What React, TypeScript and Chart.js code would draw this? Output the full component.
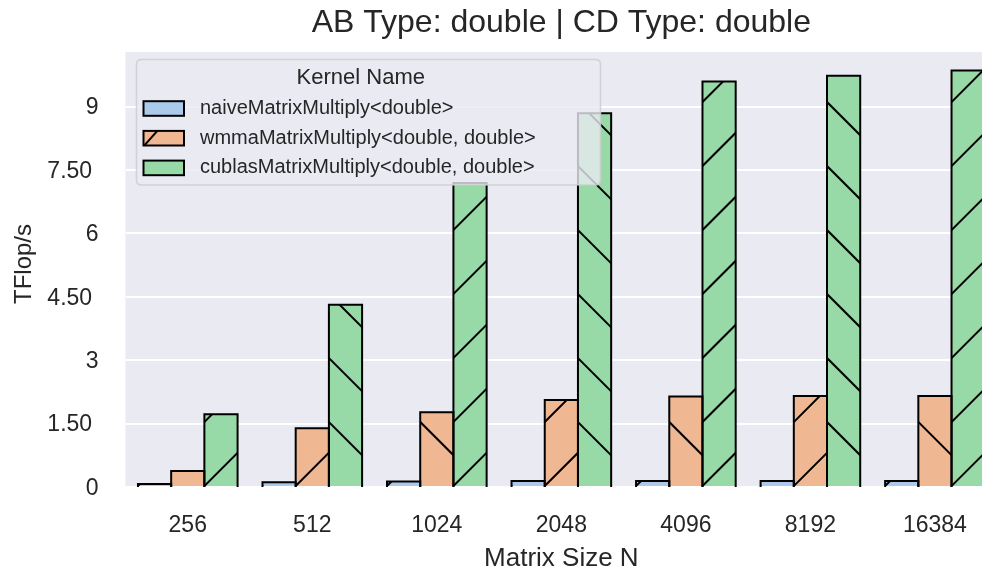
import React, { useEffect, useRef } from "react";
import { Chart, registerables } from "chart.js";

Chart.register(...registerables);

// ---------------- data ----------------
const categories = ["256", "512", "1024", "2048", "4096", "8192", "16384"];
const seriesNames = [
  "naiveMatrixMultiply<double>",
  "wmmaMatrixMultiply<double, double>",
  "cublasMatrixMultiply<double, double>",
];
const naiveValues = [0.07, 0.11, 0.13, 0.14, 0.14, 0.14, 0.14];
const wmmaValues = [0.38, 1.39, 1.77, 2.06, 2.14, 2.15, 2.15];
const cublasValues = [1.72, 4.31, 7.19, 8.84, 9.59, 9.73, 9.85];
const yTickValues = [0, 1.5, 3, 4.5, 6, 7.5, 9];
const yTickLabels = ["0", "1.50", "3", "4.50", "6", "7.50", "9"];
const seriesColors = ["#ABC9EA", "#EFB792", "#98DAA7"];
const titleText = "AB Type: double | CD Type: double";
const xTitleText = "Matrix Size N";
const yTitleText = "TFlop/s";
const legendTitleText = "Kernel Name";

// ---------------- style ----------------
const W = 1000;
const H = 575;
const FONT = "'Liberation Sans', Arial, Helvetica, sans-serif";
const TEXT = "#262626";
const HATCH = 64;

const bgPlugin = {
  id: "axesBg",
  beforeDraw(chart: any) {
    const { ctx, chartArea } = chart;
    ctx.save();
    ctx.fillStyle = "#EAEAF2";
    ctx.fillRect(chartArea.left, chartArea.top, chartArea.right - chartArea.left, chartArea.bottom - chartArea.top);
    ctx.restore();
  },
};

const hatchPlugin = {
  id: "hatchBorders",
  afterDatasetsDraw(chart: any) {
    const { ctx, chartArea } = chart;
    ctx.save();
    ctx.beginPath();
    ctx.rect(chartArea.left, chartArea.top, chartArea.right - chartArea.left, chartArea.bottom - chartArea.top);
    ctx.clip();
    chart.data.datasets.forEach((_ds: any, di: number) => {
      const meta = chart.getDatasetMeta(di);
      meta.data.forEach((el: any, i: number) => {
        const { x, y, base, width } = el.getProps(["x", "y", "base", "width"], true);
        const left = x - width / 2;
        const right = x + width / 2;
        const top = Math.min(y, base);
        const bottom = Math.max(y, base);
        const h = bottom - top;
        const idx = di * categories.length + i;
        const forward = idx % 2 === 0;
        ctx.save();
        ctx.beginPath();
        ctx.rect(left, top, width, h);
        ctx.clip();
        ctx.strokeStyle = "#000";
        ctx.lineWidth = 2;
        ctx.beginPath();
        const n = Math.ceil((h + width) / HATCH) + 2;
        for (let k = -1; k <= n; k++) {
          const y0 = bottom - HATCH * k;
          if (forward) {
            ctx.moveTo(left - 2, y0 + 2);
            ctx.lineTo(left + width + 2, y0 - width - 2);
          } else {
            ctx.moveTo(left - 2, y0 - 2);
            ctx.lineTo(left + width + 2, y0 + width + 2);
          }
        }
        ctx.stroke();
        ctx.restore();
        ctx.beginPath();
        ctx.moveTo(left, bottom + 2);
        ctx.lineTo(left, top);
        ctx.lineTo(right, top);
        ctx.lineTo(right, bottom + 2);
        ctx.strokeStyle = "#000";
        ctx.lineWidth = 2;
        ctx.lineJoin = "miter";
        ctx.stroke();
      });
    });
    ctx.restore();
  },
};

function roundRect(ctx: CanvasRenderingContext2D, x: number, y: number, w: number, h: number, r: number) {
  ctx.beginPath();
  ctx.moveTo(x + r, y);
  ctx.lineTo(x + w - r, y);
  ctx.quadraticCurveTo(x + w, y, x + w, y + r);
  ctx.lineTo(x + w, y + h - r);
  ctx.quadraticCurveTo(x + w, y + h, x + w - r, y + h);
  ctx.lineTo(x + r, y + h);
  ctx.quadraticCurveTo(x, y + h, x, y + h - r);
  ctx.lineTo(x, y + r);
  ctx.quadraticCurveTo(x, y, x + r, y);
  ctx.closePath();
}

const yTitlePlugin = {
  id: "yTitle",
  afterDraw(chart: any) {
    const ctx: CanvasRenderingContext2D = chart.ctx;
    ctx.save();
    ctx.translate(24.6, 264);
    ctx.rotate(-Math.PI / 2);
    ctx.fillStyle = TEXT;
    ctx.font = `24px ${FONT}`;
    ctx.textAlign = "center";
    ctx.textBaseline = "middle";
    ctx.fillText(yTitleText, 0, 0);
    ctx.restore();
  },
};

const legendPlugin = {
  id: "customLegend",
  afterDraw(chart: any) {
    const ctx: CanvasRenderingContext2D = chart.ctx;
    const bx = 136.5, by = 59.5, bw = 464, bh = 125.5;
    ctx.save();
    roundRect(ctx, bx, by, bw, bh, 5);
    ctx.fillStyle = "rgba(234,234,242,0.8)";
    ctx.fill();
    ctx.strokeStyle = "rgba(204,204,204,0.8)";
    ctx.lineWidth = 1.6;
    ctx.stroke();

    ctx.fillStyle = TEXT;
    ctx.font = `22px ${FONT}`;
    ctx.textAlign = "center";
    ctx.textBaseline = "middle";
    ctx.fillText(legendTitleText, 360.8, 78.1);

    const rows = [108.5, 138.2, 167.9];
    chart.data.datasets.forEach((ds: any, di: number) => {
      const cy = rows[di];
      const px = 143.5, pw = 40.5, ph = 14.6;
      const py = cy - ph / 2;
      ctx.fillStyle = ds.backgroundColor;
      ctx.fillRect(px, py, pw, ph);
      if (di === 1) {
        ctx.save();
        ctx.beginPath();
        ctx.rect(px, py, pw, ph);
        ctx.clip();
        ctx.beginPath();
        ctx.moveTo(px - 1, py + ph + 2);
        ctx.lineTo(px + ph + 1, py - 2);
        ctx.strokeStyle = "#000";
        ctx.lineWidth = 2;
        ctx.stroke();
        ctx.restore();
      }
      ctx.strokeStyle = "#000";
      ctx.lineWidth = 2;
      ctx.strokeRect(px, py, pw, ph);
      ctx.fillStyle = TEXT;
      ctx.font = `20px ${FONT}`;
      ctx.textAlign = "left";
      ctx.textBaseline = "middle";
      ctx.fillText(ds.label, 200, cy);
    });
    ctx.restore();
  },
};

export default function App() {
  const canvasRef = useRef<HTMLCanvasElement | null>(null);

  useEffect(() => {
    if (!canvasRef.current) return;
    Chart.defaults.font.family = FONT;
    Chart.defaults.color = TEXT;
    const valueSets = [naiveValues, wmmaValues, cublasValues];
    const chart = new Chart(canvasRef.current, {
      type: "bar",
      data: {
        labels: categories,
        datasets: seriesNames.map((name, i) => ({
          label: name,
          data: valueSets[i],
          backgroundColor: seriesColors[i],
          borderWidth: 0,
          categoryPercentage: 0.8,
          barPercentage: 1.0,
        })),
      },
      options: {
        animation: false,
        responsive: false,
        devicePixelRatio: 1,
        layout: { padding: { left: 0, right: 2.8, top: 0, bottom: 0 } },
        plugins: {
          legend: { display: false },
          tooltip: { enabled: false },
          title: {
            display: true,
            text: titleText,
            fullSize: false,
            color: TEXT,
            font: { size: 32, family: FONT, weight: "normal" },
            padding: { top: 4, bottom: 9.6 },
          },
        },
        scales: {
          x: {
            grid: { display: false, drawTicks: false },
            border: { display: false },
            ticks: { color: TEXT, font: { size: 23, family: FONT }, padding: 24.7, maxRotation: 0 },
            title: {
              display: true,
              text: xTitleText,
              color: TEXT,
              font: { size: 26, family: FONT },
              padding: { top: 0, bottom: 1 },
            },
            afterFit(scale: any) {
              scale.height = 88;
            },
          },
          y: {
            min: 0,
            max: 10.29,
            grid: { color: "#FFFFFF", lineWidth: 2, drawTicks: false },
            border: { display: false },
            afterBuildTicks(scale: any) {
              scale.ticks = yTickValues.map((v) => ({ value: v }));
            },
            ticks: {
              color: TEXT,
              font: { size: 23, family: FONT },
              padding: 27,
              labelOffset: 1.5,
              callback: (_v: any, i: number) => {
                const s = yTickLabels[i];
                return s.includes(".") ? s + " " : s;
              },
            },
            title: { display: false },
            afterFit(scale: any) {
              scale.width = 125.5;
            },
          },
        },
      },
      plugins: [bgPlugin, hatchPlugin, legendPlugin, yTitlePlugin],
    } as any);
    return () => chart.destroy();
  }, []);

  return (
    <div style={{ position: "fixed", left: 0, top: 0, width: 982, height: 575, overflow: "hidden", background: "#fff" }}>
      <canvas ref={canvasRef} width={W} height={H} style={{ display: "block", width: W, height: H }} />
    </div>
  );
}
